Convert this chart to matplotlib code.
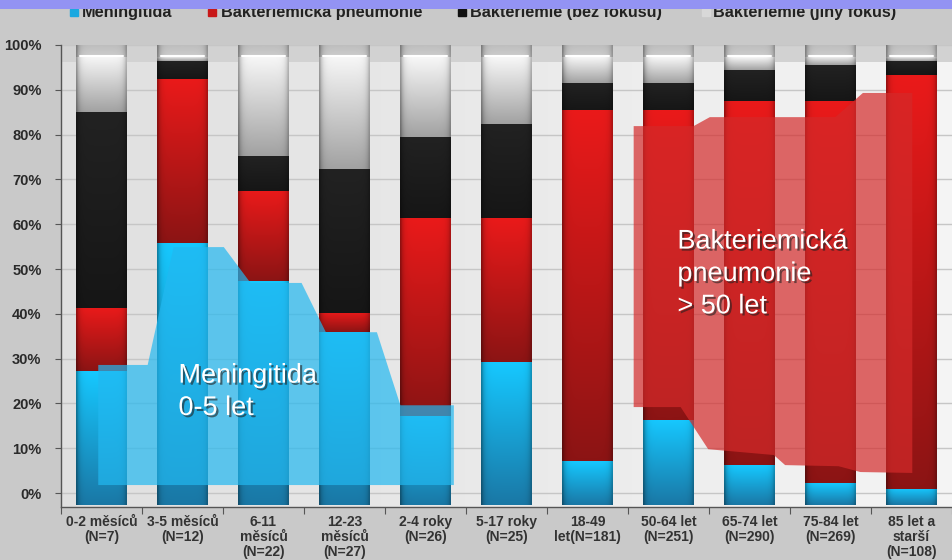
import numpy as np
import matplotlib
matplotlib.use('Agg')
import matplotlib.pyplot as plt
import matplotlib.patches as mpatches
import matplotlib.patheffects as pe
from matplotlib import font_manager
from matplotlib.colors import to_rgb

names = {f.name for f in font_manager.fontManager.ttflist}
FONT = 'Liberation Sans' if 'Liberation Sans' in names else 'DejaVu Sans'
plt.rcParams['font.family'] = [FONT, 'DejaVu Sans']

# ── data (percent of cases, read against the gridlines) ──────────────
categories = ['0-2 měsíců\n(N=7)', '3-5 měsíců\n(N=12)', '6-11\nměsíců\n(N=22)',
              '12-23\nměsíců\n(N=27)', '2-4 roky\n(N=26)', '5-17 roky\n(N=25)',
              '18-49\nlet(N=181)', '50-64 let\n(N=251)', '65-74 let\n(N=290)',
              '75-84 let\n(N=269)', '85 let a\nstarší\n(N=108)']
meningitida = [27.2, 55.8, 47.3, 35.9, 17.2, 29.2, 7.1, 16.3, 6.2, 2.2, 0.9]
pneumonie   = [14.1, 36.6, 20.1, 4.3, 44.2, 32.2, 78.4, 69.2, 81.3, 85.3, 92.4]
bez_fokusu  = [43.7, 4.0, 7.8, 32.1, 18.1, 21.0, 6.0, 6.0, 6.9, 8.0, 3.1]
jiny_fokus  = [12.3, 0.9, 22.1, 25.0, 17.8, 14.9, 5.8, 5.8, 2.9, 1.8, 0.9]

series_names = ['Meningitida', 'Bakteriemická pneumonie',
                'Bakteriemie (bez fokusu)', 'Bakteriemie (jiný fokus)']

# highlighted areas (category position, percent)
men_area_x = [-0.04, -0.04, 0.57, 0.89, 1.51, 1.84, 2.47, 2.77, 3.40, 3.69, 4.35, 4.35]
men_area_y = [1.8, 28.6, 28.6, 54.9, 54.9, 46.9, 46.9, 35.9, 35.9, 19.6, 19.6, 1.8]
pneu_area_x = [6.57, 7.31, 7.51, 9.06, 9.40, 10.01, 10.01, 9.37, 9.10, 8.44, 8.30, 7.49, 7.15, 6.57]
pneu_area_y = [81.9, 81.9, 83.9, 83.9, 89.3, 89.3, 4.5, 4.7, 6.0, 6.25, 8.5, 9.8, 19.2, 19.2]

# ── style ────────────────────────────────────────────────────────────
DEPTH = 2.7          # 3D base below the zero line
YMIN = -3.1
BAR_W = 0.62
GRAD = {
    'blue':  ('#16c8ff', '#1a78a6'),
    'red':   ('#ea1a1a', '#8c1414'),
    'black': ('#222222', '#161616'),
    'gray':  ('#f7f7f7', '#a2a2a2'),
    'cap':   ('#bdbdbd', '#cdcdcd'),
}


def gradient_fill(ax, patch, top, bottom):
    x0, y0 = patch.get_x(), patch.get_y()
    w, h = patch.get_width(), patch.get_height()
    if h <= 0:
        return
    t = np.linspace(0, 1, 64)[:, None, None]
    col = (1 - t) * np.array(to_rgb(top)) + t * np.array(to_rgb(bottom))
    u = np.linspace(0, 1, 32)
    shade = 1 - 0.35 * np.exp(-u / 0.05) - 0.25 * np.exp(-(1 - u) / 0.05)
    img = np.clip(col * shade[None, :, None], 0, 1)
    im = ax.imshow(img, extent=(x0, x0 + w, y0, y0 + h), origin='upper',
                   aspect='auto', interpolation='bilinear', zorder=2.1)
    im.set_clip_path(patch)


fig = plt.figure(figsize=(9.52, 5.6), dpi=100, facecolor='#c9c9c9')
ax = fig.add_axes([61 / 952, 53 / 560, 891 / 952, 462 / 560])
n = len(categories)
x = np.arange(n)

# plot area background
bg = np.linspace(0, 1, 64)[None, :, None]
bg_img = (1 - bg) * np.array(to_rgb('#e0e0e0')) + bg * np.array(to_rgb('#f4f4f4'))
ax.imshow(bg_img, extent=(-0.5, n - 0.5, YMIN, 100), aspect='auto', zorder=0)
ax.axhspan(96.2, 100, color='#d2d2d2', zorder=0.2, lw=0)
for yv in range(0, 101, 10):
    ax.axhline(yv, color='#c6c6c6', lw=1, zorder=0.5)

# stacked bars
bottom = np.full(n, -DEPTH)
stacks = [(np.array(meningitida) + DEPTH, 'blue'), (np.array(pneumonie), 'red'),
          (np.array(bez_fokusu), 'black'), (np.array(jiny_fokus), 'gray')]
for vals, key in stacks:
    bars = ax.bar(x, vals, BAR_W, bottom=bottom, color=GRAD[key][0], lw=0, zorder=2)
    for p in bars:
        gradient_fill(ax, p, *GRAD[key])
    bottom = bottom + vals
caps = ax.bar(x, 100 - bottom, BAR_W, bottom=bottom, color=GRAD['cap'][0], lw=0, zorder=2)
for p in caps:
    gradient_fill(ax, p, *GRAD['cap'])
    ax.plot([p.get_x() + 0.04, p.get_x() + p.get_width() - 0.04], [p.get_y() + 0.3] * 2,
            color='white', lw=1.5, zorder=2.2, solid_capstyle='round')

# highlighted areas
ax.fill(men_area_x, men_area_y, color='#22b8f0', alpha=0.7, lw=0, zorder=3)
ax.fill(pneu_area_x, pneu_area_y, color='#d42a2a', alpha=0.7, lw=0, zorder=3)

shadow = [pe.SimplePatchShadow(offset=(1.5, -1.5), shadow_rgbFace='#202020', alpha=0.6),
          pe.Normal()]
ax.text(0.95, 22.6, 'Meningitida\n0-5 let', color='white', fontsize=19.5,
        va='center', ha='left', linespacing=1.32, zorder=4, path_effects=shadow)
ax.text(7.11, 48.9, 'Bakteriemická\npneumonie\n> 50 let', color='white', fontsize=19.5,
        va='center', ha='left', linespacing=1.32, zorder=4, path_effects=shadow)

# axes
ax.set_xlim(-0.5, n - 0.5)
ax.set_ylim(YMIN, 100)
ax.set_xticks(np.arange(-0.5, n, 1.0))
ax.set_xticklabels([])
ax.set_xticks(x, minor=True)
ax.set_xticklabels(categories, minor=True, fontsize=10, fontweight='bold',
                   color='#333333', linespacing=1.08)
ax.tick_params(axis='x', which='major', length=5, direction='out', color='#555555')
ax.tick_params(axis='x', which='minor', length=0, pad=6)
ax.set_yticks(range(0, 101, 10))
ax.set_yticklabels([f'{v}%' for v in range(0, 101, 10)], fontsize=10.5,
                   fontweight='bold', color='#2a2a2a')
ax.tick_params(axis='y', length=4, direction='out', color='#555555', pad=10)
for s in ['top', 'right']:
    ax.spines[s].set_visible(False)
for s in ['left', 'bottom']:
    ax.spines[s].set_color('#555555')
    ax.spines[s].set_linewidth(1)

# legend (top row, partly hidden under the title band)
leg_colors = ['#1aa8e0', '#c81818', '#111111', '#d8d8d8']
leg_marker_px = [70, 208, 458, 702]
leg_text_px = [82, 221, 470, 713]
for name, c, mx, tx in zip(series_names, leg_colors, leg_marker_px, leg_text_px):
    fig.add_artist(mpatches.Rectangle((mx / 952, 1 - 16 / 560), 8 / 952, 7 / 560,
                                      transform=fig.transFigure, color=c, zorder=5))
    fig.text(tx / 952, 1 - 17 / 560, name, fontsize=11.7, fontweight='bold',
             color='#222222', va='baseline', ha='left', zorder=5)
fig.add_artist(mpatches.Rectangle((0, 1 - 8.5 / 560), 1, 8.5 / 560, transform=fig.transFigure,
                                  color='#9393f3', zorder=10, lw=0))

fig.savefig('out.png', dpi=100, facecolor=fig.get_facecolor())
